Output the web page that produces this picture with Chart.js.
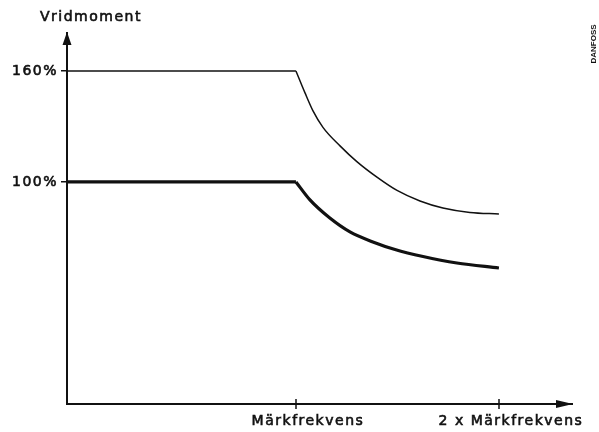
<!DOCTYPE html>
<html lang="sv">
<head>
    <meta charset="UTF-8">
    <title>Vridmoment / Märkfrekvens</title>
    <script src="https://cdn.jsdelivr.net/npm/chart.js@4.4.0/dist/chart.umd.js"></script>
    <style>
        body { margin: 0; background: #ffffff; }
        #torqueChart { display: block; }
    </style>
</head>
<body>
    <canvas id="torqueChart" width="599" height="432"></canvas>

    <script>
        // Frequency in multiples of rated frequency (Märkfrekvens), torque in %
        // Constant-torque part up to rated frequency
        const upperFlatX = [-0.128, 1.0];
        const upperFlatY = [160, 160];
        const lowerFlatX = [-0.128, 1.0];
        const lowerFlatY = [100, 100];

        // Field-weakening part above rated frequency
        const upperCurveX = [1.0, 1.044, 1.084, 1.133, 1.217, 1.300, 1.399, 1.498, 1.611, 1.724, 1.857, 2.0];
        const upperCurveY = [160, 148.3, 138.4, 129.5, 119.5, 111.0, 102.6, 95.4, 89.7, 85.9, 83.5, 82.7];
        const lowerCurveX = [1.0, 1.069, 1.167, 1.266, 1.379, 1.488, 1.626, 1.793, 2.0];
        const lowerCurveY = [100, 90.3, 80.5, 73.0, 67.6, 63.5, 59.7, 56.2, 53.5];

        const yTickValues = [100, 160];
        const yTickLabels = ['100%', '160%'];
        const xTickValues = [1, 2];
        const xTickLabels = ['Märkfrekvens', '2 x Märkfrekvens'];
        const yAxisTitle = 'Vridmoment';
        const stamp = 'DANFOSS';

        const FONT = 'DejaVu Sans';
        const INK = '#111';

        function toPoints(xs, ys) {
            return xs.map((x, i) => ({ x: x, y: ys[i] }));
        }

        function lineSet(xs, ys, width, smooth) {
            return {
                data: toPoints(xs, ys),
                showLine: true,
                borderColor: INK,
                borderWidth: width,
                pointRadius: 0,
                cubicInterpolationMode: smooth ? 'monotone' : 'default',
                tension: 0
            };
        }

        const drawingPlugin = {
            id: 'drawing',
            beforeDraw(chart) {
                chart.ctx.letterSpacing = '1.5px';
            },
            afterDraw(chart) {
                const ctx = chart.ctx;
                const xs = chart.scales.x;
                const area = chart.chartArea;
                ctx.save();
                ctx.fillStyle = INK;
                ctx.strokeStyle = INK;

                // arrow heads
                ctx.beginPath();
                ctx.moveTo(area.left, area.top - 1);
                ctx.lineTo(area.left - 4.5, area.top + 12);
                ctx.lineTo(area.left + 4.5, area.top + 12);
                ctx.closePath();
                ctx.fill();

                ctx.beginPath();
                ctx.moveTo(area.right + 1, area.bottom);
                ctx.lineTo(area.right - 16, area.bottom - 4);
                ctx.lineTo(area.right - 16, area.bottom + 4);
                ctx.closePath();
                ctx.fill();

                // x ticks crossing the axis
                ctx.lineWidth = 1.5;
                xTickValues.forEach(v => {
                    const px = Math.round(xs.getPixelForValue(v));
                    ctx.beginPath();
                    ctx.moveTo(px, area.bottom - 5);
                    ctx.lineTo(px, area.bottom + 5);
                    ctx.stroke();
                });

                // axis title
                ctx.letterSpacing = '1.5px';
                ctx.font = '14px "' + FONT + '"';
                ctx.textAlign = 'left';
                ctx.textBaseline = 'alphabetic';
                ctx.lineWidth = 0.6;
                ctx.fillText(yAxisTitle, 40, 21);
                ctx.strokeText(yAxisTitle, 40, 21);

                // stamp
                ctx.letterSpacing = '0px';
                ctx.translate(594, 44);
                ctx.rotate(-Math.PI / 2);
                ctx.font = 'bold 8px "Liberation Sans"';
                ctx.textAlign = 'center';
                ctx.textBaseline = 'middle';
                ctx.fillText(stamp, 0, 0);
                ctx.restore();
            }
        };

        const tickFont = { family: FONT, size: 14 };

        const ctx = document.getElementById('torqueChart').getContext('2d');
        new Chart(ctx, {
            type: 'scatter',
            data: {
                datasets: [
                    lineSet(upperFlatX, upperFlatY, 1.5, false),
                    lineSet(upperCurveX, upperCurveY, 1.5, true),
                    lineSet(lowerFlatX, lowerFlatY, 3.2, false),
                    lineSet(lowerCurveX, lowerCurveY, 3.2, true)
                ]
            },
            options: {
                responsive: false,
                animation: false,
                layout: { padding: { top: 33, right: 27, left: 0, bottom: 0 } },
                plugins: {
                    legend: { display: false },
                    tooltip: { enabled: false }
                },
                scales: {
                    x: {
                        type: 'linear',
                        min: -0.128,
                        max: 2.36,
                        afterFit(scale) { scale.height = 28; },
                        afterBuildTicks(scale) {
                            scale.ticks = xTickValues.map(v => ({ value: v }));
                        },
                        grid: { display: false, drawTicks: false },
                        border: { display: true, color: INK, width: 2 },
                        ticks: {
                            color: INK,
                            textStrokeColor: INK,
                            textStrokeWidth: 0.6,
                            padding: 9,
                            labelOffset: 12,
                            maxRotation: 0,
                            autoSkip: false,
                            font: tickFont,
                            callback: function (value) {
                                const i = xTickValues.indexOf(value);
                                return i >= 0 ? xTickLabels[i] : '';
                            }
                        }
                    },
                    y: {
                        type: 'linear',
                        min: -20,
                        max: 180.5,
                        afterFit(scale) { scale.width = 67; },
                        afterBuildTicks(scale) {
                            scale.ticks = yTickValues.map(v => ({ value: v }));
                        },
                        grid: {
                            drawOnChartArea: false,
                            drawTicks: true,
                            tickLength: 6,
                            color: INK,
                            lineWidth: 1.5
                        },
                        border: { display: true, color: INK, width: 2 },
                        ticks: {
                            color: INK,
                            textStrokeColor: INK,
                            textStrokeWidth: 0.6,
                            padding: 3,
                            autoSkip: false,
                            font: tickFont,
                            callback: function (value) {
                                const i = yTickValues.indexOf(value);
                                return i >= 0 ? yTickLabels[i] : '';
                            }
                        }
                    }
                }
            },
            plugins: [drawingPlugin]
        });
    </script>
</body>
</html>
